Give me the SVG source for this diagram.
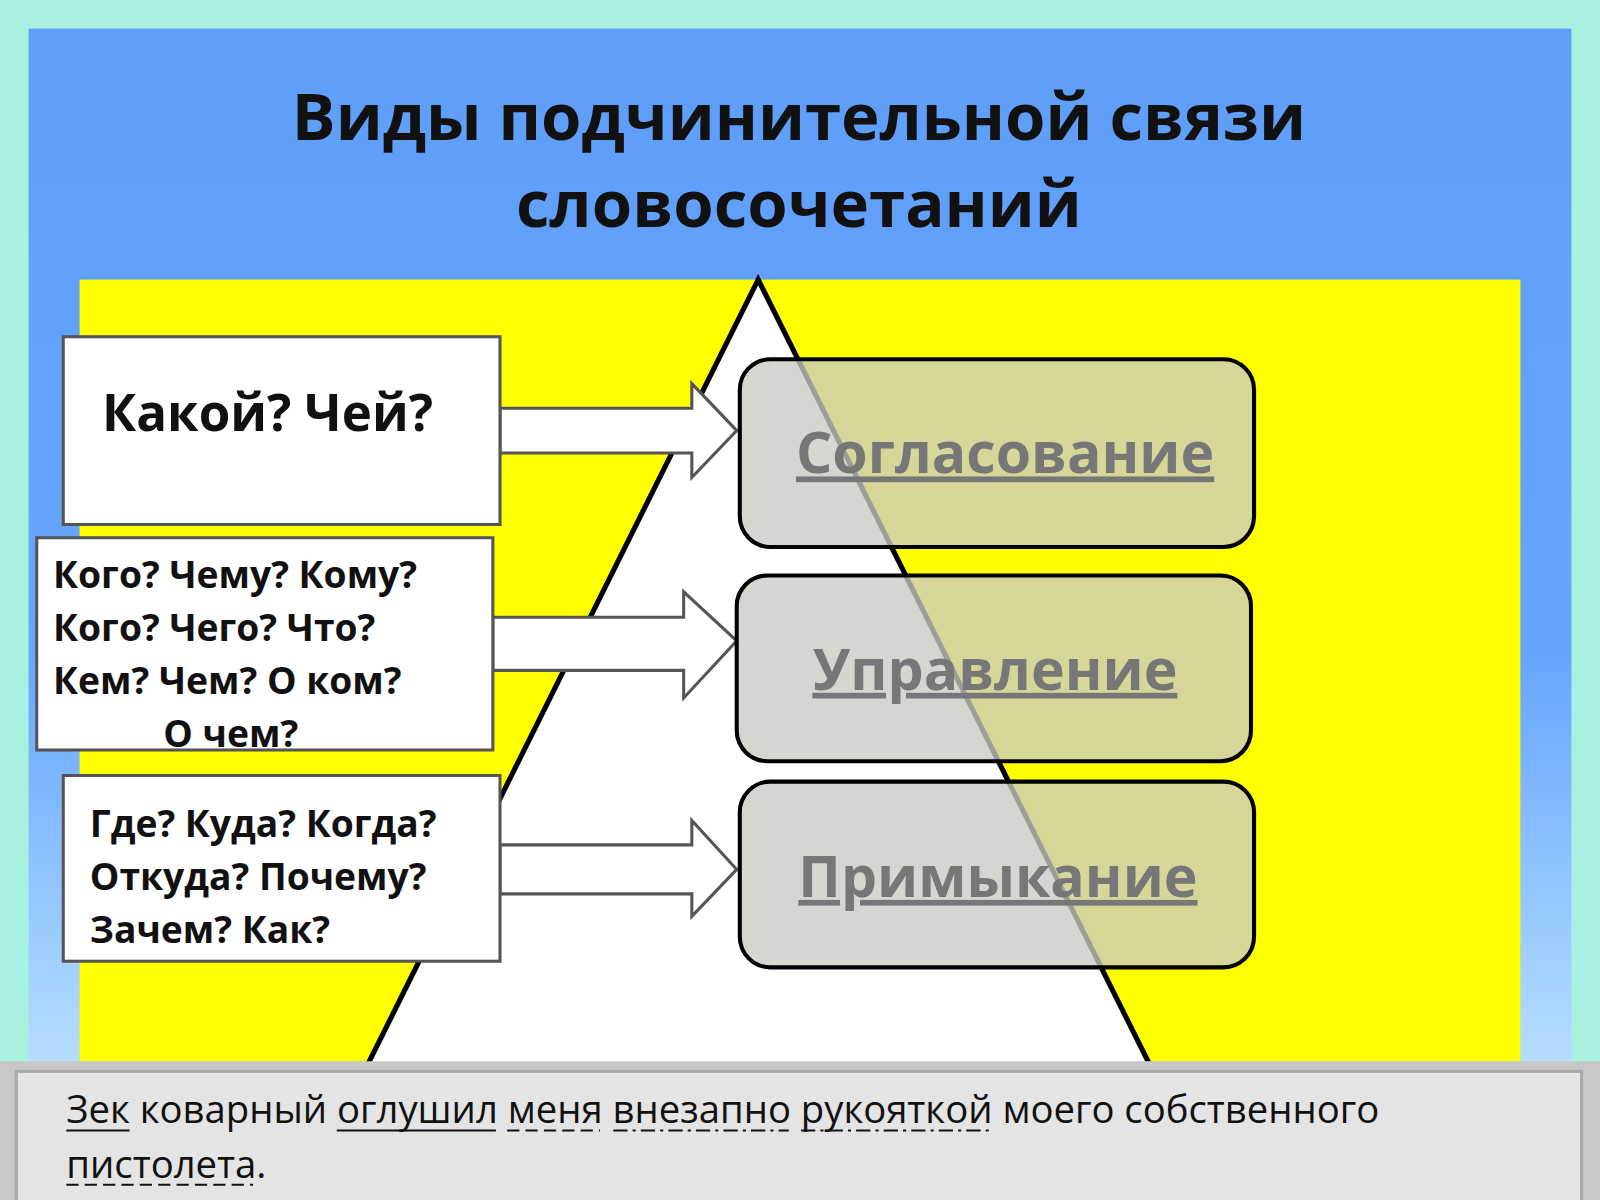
<svg xmlns="http://www.w3.org/2000/svg" width="1600" height="1200" viewBox="0 0 1600 1200">
<defs>
<linearGradient id="bg" x1="0" y1="0" x2="0" y2="1">
<stop offset="0" stop-color="#5e9ef8"/><stop offset="0.6" stop-color="#66a6ff"/><stop offset="1" stop-color="#b8e0ff"/>
</linearGradient>
<style>
.t{font-family:"Open Sans","DejaVu Sans",sans-serif;font-weight:bold;fill:#111}
.box{fill:#fff;stroke:#555;stroke-width:3}
.arr{fill:#fff;stroke:#555;stroke-width:3}
.rb{fill:#cbcbc4;fill-opacity:0.78;stroke:#000;stroke-width:4}
.g{font-family:"Open Sans","DejaVu Sans",sans-serif;font-weight:bold;fill:#777;font-size:56px;text-decoration:underline;text-anchor:middle}
.b{font-family:"Open Sans","DejaVu Sans",sans-serif;font-size:37.5px;fill:#111}
.u{stroke:#111;stroke-width:2}
</style>
</defs>
<g transform="scale(1.0204)">
<rect width="1568" height="1176" fill="#a8f0e0"/>
<rect x="28" y="28" width="1512" height="1030" fill="url(#bg)"/>
<rect x="78" y="274" width="1412" height="770" fill="#ffff00"/>
<polygon points="743,274 360,1044 1127,1044" fill="#fff" stroke="#000" stroke-width="5"/>
<text class="t" font-size="64" text-anchor="middle"><tspan x="783" y="137">Виды подчинительной связи</tspan><tspan x="783" y="222">словосочетаний</tspan></text>
<g id="connectors">
<polygon class="arr" points="490,400 678,400 678,376 722,422 678,468 678,444 490,444"/>
<polygon class="arr" points="483,605 670,605 670,580 722,628 670,684 670,657 483,657"/>
<polygon class="arr" points="490,828 678,828 678,804 722,852 678,898 678,876 490,876"/>
</g>
<g id="q1"><rect class="box" x="62" y="330" width="428" height="184"/><text class="t" font-size="50" x="100" y="422">Какой? Чей?</text></g>
<g id="q2"><rect class="box" x="36" y="527" width="447" height="208"/><text class="t" font-size="36.5"><tspan x="52" y="576">Кого? Чему? Кому?</tspan><tspan x="52" y="628">Кого? Чего? Что?</tspan><tspan x="52" y="680">Кем? Чем? О ком?</tspan><tspan x="160" y="732">О чем?</tspan></text></g>
<g id="q3"><rect class="box" x="62" y="760" width="428" height="182"/><text class="t" font-size="36.5"><tspan x="88" y="820">Где? Куда? Когда?</tspan><tspan x="88" y="872">Откуда? Почему?</tspan><tspan x="88" y="924">Зачем? Как?</tspan></text></g>
<g id="n1"><rect class="rb" x="725" y="352" width="504" height="184" rx="30"/><text class="g" x="985" y="464">Согласование</text></g>
<g id="n2"><rect class="rb" x="722" y="564" width="504" height="182" rx="30"/><text class="g" x="975" y="676">Управление</text></g>
<g id="n3"><rect class="rb" x="725" y="766" width="504" height="182" rx="30"/><text class="g" x="978" y="879">Примыкание </text></g>
<g id="sentence">
<rect x="0" y="1040" width="1568" height="136" fill="#c8c8c8"/>
<rect x="16" y="1050" width="1534" height="130" fill="#e4e4e4" stroke="#aaa" stroke-width="3"/>
<text class="b"><tspan x="65" y="1101">Зек коварный оглушил меня внезапно рукояткой моего собственного</tspan><tspan x="65" y="1154">пистолета.</tspan></text>
<line class="u" x1="65" y1="1108" x2="127" y2="1108"/>
<line class="u" x1="330" y1="1108" x2="486" y2="1108"/>
<line class="u" x1="497" y1="1108" x2="588" y2="1108" stroke-dasharray="12,6"/>
<line class="u" x1="601" y1="1108" x2="773" y2="1108" stroke-dasharray="14,5,3,5"/>
<line class="u" x1="785" y1="1108" x2="973" y2="1108" stroke-dasharray="14,5,3,5"/>
<line class="u" x1="65" y1="1161" x2="248" y2="1161" stroke-dasharray="12,6"/>
</g>
</g>
</svg>
